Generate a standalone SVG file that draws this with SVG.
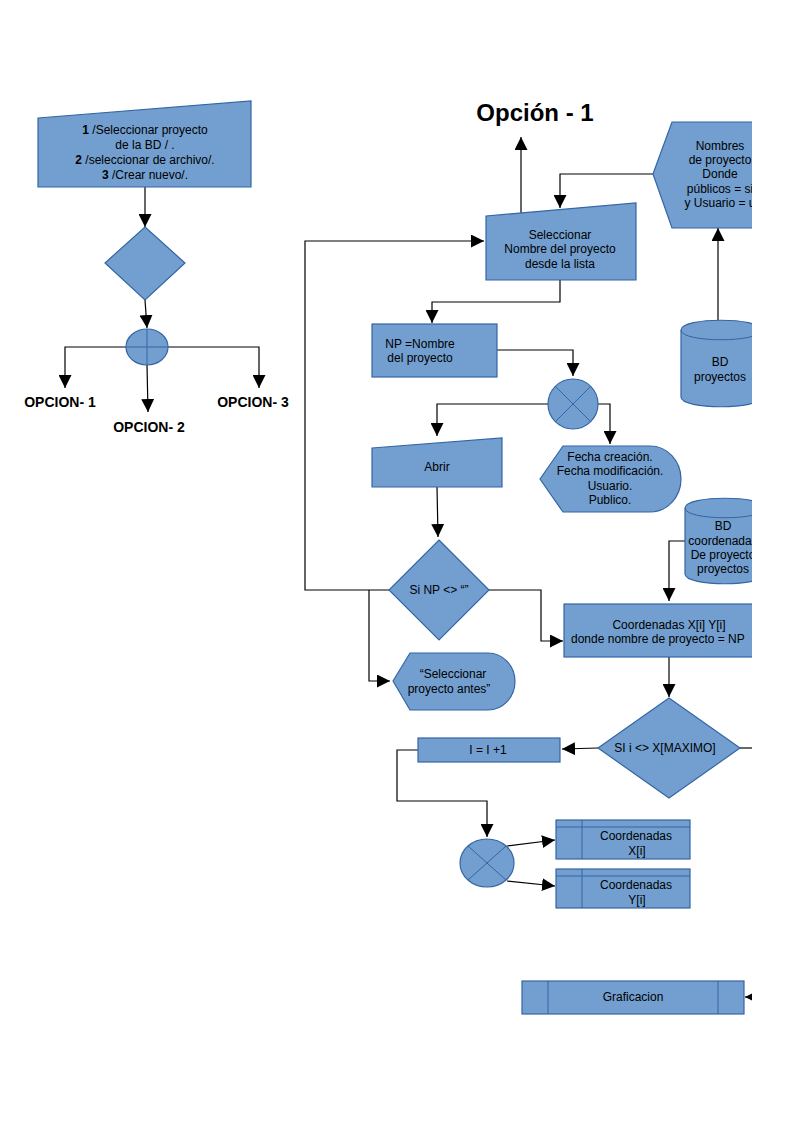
<svg xmlns="http://www.w3.org/2000/svg" width="795" height="1124" viewBox="0 0 795 1124">
<style>
.s{fill:#729fcf;stroke:#3465a4;stroke-width:1.2}
.c{fill:none;stroke:#000;stroke-width:1.2}
.l{stroke:#3465a4;stroke-width:1;fill:none}
text{font-family:"Liberation Sans",Arial,sans-serif;font-size:12px;fill:#000;text-anchor:middle}
.b{font-weight:bold;font-size:14px}
</style>
<defs>
<marker id="a" viewBox="0 0 10 10" refX="10" refY="5" markerWidth="9" markerHeight="9" markerUnits="userSpaceOnUse" orient="auto"><path d="M0,0L10,5L0,10z" fill="#000"/></marker>
<marker id="a2" viewBox="0 0 10 10" refX="10" refY="5" markerWidth="13" markerHeight="13" markerUnits="userSpaceOnUse" orient="auto"><path d="M0,0L10,5L0,10z" fill="#000"/></marker>
<clipPath id="cp"><rect x="0" y="0" width="752" height="1124"/></clipPath>
</defs>
<rect width="795" height="1124" fill="#fff"/>
<g clip-path="url(#cp)">
<g id="connectors">
<path class="c" d="M145,187V227" marker-end="url(#a2)"/>
<path class="c" d="M145,300L147,328" marker-end="url(#a2)"/>
<path class="c" d="M126,347H65V388" marker-end="url(#a2)"/>
<path class="c" d="M168,347H259V388" marker-end="url(#a2)"/>
<path class="c" d="M147,365L148,412" marker-end="url(#a2)"/>
<path class="c" d="M389,590H305V241H484" marker-end="url(#a2)"/>
<path class="c" d="M521,213V137" marker-end="url(#a2)"/>
<path class="c" d="M653,174H560V208" marker-end="url(#a2)"/>
<path class="c" d="M718,320V228" marker-end="url(#a2)"/>
<path class="c" d="M560,280V302H432V323" marker-end="url(#a2)"/>
<path class="c" d="M497,350H573V376" marker-end="url(#a2)"/>
<path class="c" d="M548,404H437V436" marker-end="url(#a2)"/>
<path class="c" d="M598,404H610V444" marker-end="url(#a2)"/>
<path class="c" d="M437,487L438,537" marker-end="url(#a2)"/>
<path class="c" d="M369,590V681H390" marker-end="url(#a2)"/>
<path class="c" d="M489,590H541V641H563" marker-end="url(#a2)"/>
<path class="c" d="M686,541H669V601" marker-end="url(#a2)"/>
<path class="c" d="M669,657V697" marker-end="url(#a2)"/>
<path class="c" d="M740,748H760"/>
<path class="c" d="M598,748L562,749" marker-end="url(#a2)"/>
<path class="c" d="M418,750H397V801H487V837" marker-end="url(#a2)"/>
<path class="c" d="M507,846L555,840" marker-end="url(#a2)"/>
<path class="c" d="M507,881L555,886" marker-end="url(#a2)"/>
<path class="c" d="M760,997H745" marker-end="url(#a)"/>
</g>
<g id="n-input"><path class="s" d="M38,118L251,101V187H38z"/>
<text x="145" y="134"><tspan font-weight="bold">1</tspan> /Seleccionar proyecto</text>
<text x="145" y="149">de la BD / .</text>
<text x="145" y="164"><tspan font-weight="bold">2</tspan> /seleccionar de archivo/.</text>
<text x="145" y="179"><tspan font-weight="bold">3</tspan> /Crear nuevo/.</text></g>
<g id="n-dec1"><path class="s" d="M145,227L185,263L145,300L105,263z"/></g>
<g id="n-or"><ellipse class="s" cx="147" cy="347" rx="21" ry="18"/><path class="l" d="M126,347H168M147,329V365"/></g>
<g id="n-op1"><text class="b" x="60" y="407">OPCION- 1</text></g>
<g id="n-op2"><text class="b" x="149" y="432">OPCION- 2</text></g>
<g id="n-op3"><text class="b" x="253" y="407">OPCION- 3</text></g>
<g id="n-title"><text x="535" y="121" style="font-size:24px;font-weight:bold">Opción - 1</text></g>
<g id="n-sel"><path class="s" d="M486,216L636,203V280H486z"/>
<text x="560" y="239">Seleccionar</text><text x="560" y="253">Nombre del proyecto</text><text x="560" y="268">desde la lista</text></g>
<g id="n-nombres"><path class="s" d="M653,174L672,122H780V228H672z"/>
<text x="720" y="150">Nombres</text><text x="720" y="164">de proyecto</text><text x="720" y="178">Donde</text><text x="720" y="193">públicos = si</text><text x="720" y="207">y Usuario = u</text></g>
<g id="n-bdp"><path class="s" d="M681,330C681,317 761,317 761,330V397C761,410 681,410 681,397z"/><path class="l" d="M681,330C681,343 761,343 761,330"/>
<text x="720" y="366">BD</text><text x="720" y="381">proyectos</text></g>
<g id="n-np"><rect class="s" x="372" y="324" width="125" height="53"/><text x="420" y="348">NP =Nombre</text><text x="420" y="362">del proyecto</text></g>
<g id="n-x1"><circle class="s" cx="573" cy="404" r="25"/><path class="l" d="M555,386L591,422M591,386L555,422"/></g>
<g id="n-abrir"><path class="s" d="M372,448L502,438V487H372z"/><text x="437" y="471">Abrir</text></g>
<g id="n-fecha"><path class="s" d="M540,479L563,446H650A31,33 0 0 1 650,512H563z"/>
<text x="610" y="461">Fecha creación.</text><text x="610" y="475">Fecha modificación.</text><text x="610" y="490">Usuario.</text><text x="610" y="504">Publico.</text></g>
<g id="n-si"><path class="s" d="M439,540L489,590L439,640L389,590z"/><text x="439" y="594">Si NP &lt;&gt; “”</text></g>
<g id="n-selant"><path class="s" d="M393,681L410,653H488A27,28.5 0 0 1 488,710H410z"/>
<text x="453" y="678">“Seleccionar</text><text x="449" y="693">proyecto antes”</text></g>
<g id="n-bdc"><path class="s" d="M685,508C685,495 765,495 765,508V574C765,587 685,587 685,574z"/><path class="l" d="M685,508C685,521 765,521 765,508"/>
<text x="723" y="530">BD</text><text x="723" y="545">coordenadas</text><text x="723" y="559">De proyecto</text><text x="723" y="573">proyectos</text></g>
<g id="n-coord"><rect class="s" x="564" y="604" width="210" height="53"/><text x="669" y="629">Coordenadas X[i] Y[i]</text><text x="571" y="643" style="text-anchor:start">donde nombre de proyecto = NP</text></g>
<g id="n-dec2"><path class="s" d="M669,698L740,748L669,798L598,748z"/><text x="665" y="752">SI i &lt;&gt;  X[MAXIMO]</text></g>
<g id="n-inc"><rect class="s" x="418" y="738" width="142" height="24"/><text x="488" y="754">I = I +1</text></g>
<g id="n-x2"><ellipse class="s" cx="487" cy="863" rx="27" ry="24"/><path class="l" d="M468,846L506,880M506,846L468,880"/></g>
<g id="n-cx"><rect class="s" x="556" y="820" width="134" height="39"/><path class="l" d="M556,827H690M582,820V859"/><text x="636" y="840">Coordenadas</text><text x="637" y="855">X[i]</text></g>
<g id="n-cy"><rect class="s" x="556" y="869" width="134" height="39"/><path class="l" d="M556,876H690M582,869V908"/><text x="636" y="889">Coordenadas</text><text x="637" y="904">Y[i]</text></g>
<g id="n-graf"><rect class="s" x="522" y="981" width="222" height="33"/><path class="l" d="M548,981V1014M718,981V1014"/><text x="633" y="1001">Graficacion</text></g>
</g>
</svg>
